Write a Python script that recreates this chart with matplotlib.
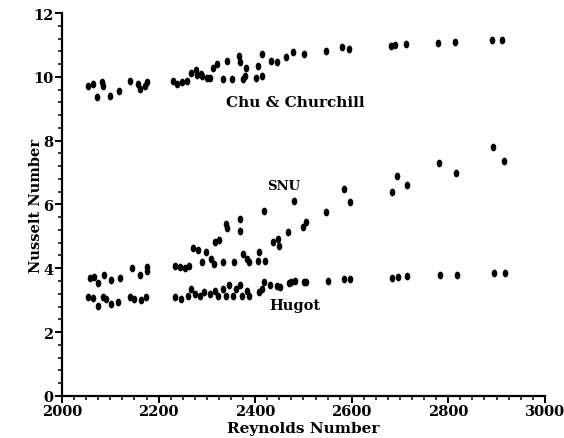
import numpy as np
import matplotlib
matplotlib.use("Agg")
import matplotlib.pyplot as plt
from matplotlib.path import Path
from matplotlib.ticker import MultipleLocator

# Chu & Churchill correlation points
chu_re = [2054, 2064, 2083, 2085, 2072, 2099, 2118, 2140, 2157, 2161, 2171, 2176,
          2229, 2238, 2248, 2258, 2268, 2277, 2279, 2287, 2289, 2300, 2306, 2312,
          2322, 2333, 2341, 2353, 2366, 2368, 2374, 2380, 2382, 2402, 2405, 2415,
          2415, 2433, 2446, 2464, 2478, 2502, 2547, 2580, 2594, 2681, 2690, 2712,
          2779, 2814, 2891, 2912]
chu_nu = [9.72, 9.78, 9.84, 9.72, 9.37, 9.40, 9.56, 9.87, 9.78, 9.62, 9.72, 9.84,
          9.87, 9.78, 9.84, 9.87, 10.12, 10.23, 10.06, 10.09, 10.03, 9.97, 9.96, 10.27,
          10.41, 9.92, 10.51, 9.92, 10.65, 10.46, 9.94, 10.02, 10.27, 9.96, 10.33, 10.02,
          10.72, 10.51, 10.46, 10.62, 10.78, 10.72, 10.82, 10.93, 10.88, 10.96, 11.00, 11.03,
          11.07, 11.08, 11.14, 11.17]

# SNU measurements
snu_re = [2058, 2067, 2074, 2087, 2101, 2120, 2144, 2161, 2175, 2177, 2233, 2244,
          2254, 2264, 2271, 2282, 2289, 2299, 2309, 2314, 2316, 2326, 2333, 2340,
          2342, 2357, 2368, 2369, 2375, 2383, 2388, 2406, 2409, 2419, 2421, 2437,
          2447, 2450, 2468, 2481, 2499, 2506, 2547, 2583, 2596, 2683, 2693, 2715,
          2781, 2817, 2893, 2915]
snu_nu = [3.70, 3.74, 3.53, 3.80, 3.64, 3.70, 4.01, 3.80, 4.05, 3.91, 4.08, 4.03,
          4.01, 4.08, 4.63, 4.56, 4.19, 4.50, 4.29, 4.14, 4.82, 4.90, 4.19, 5.39,
          5.26, 4.19, 5.18, 5.55, 4.45, 4.29, 4.19, 4.24, 4.50, 5.81, 4.24, 4.82,
          4.92, 4.71, 5.13, 6.12, 5.29, 5.46, 5.76, 6.49, 6.07, 6.38, 6.88, 6.61,
          7.29, 6.98, 7.80, 7.36]

# Hugot correlation points
hug_re = [2054, 2065, 2075, 2085, 2092, 2101, 2115, 2140, 2149, 2163, 2173, 2233,
          2247, 2261, 2268, 2275, 2285, 2295, 2306, 2316, 2323, 2333, 2340, 2346,
          2354, 2361, 2368, 2373, 2383, 2387, 2409, 2415, 2419, 2430, 2445, 2452,
          2471, 2475, 2483, 2502, 2506, 2550, 2585, 2596, 2684, 2695, 2715, 2783,
          2819, 2895, 2917]
hug_nu = [3.09, 3.07, 2.83, 3.11, 3.04, 2.88, 2.93, 3.11, 3.04, 2.99, 3.11, 3.09,
          3.04, 3.14, 3.35, 3.20, 3.14, 3.24, 3.20, 3.30, 3.14, 3.35, 3.14, 3.48,
          3.14, 3.35, 3.48, 3.14, 3.30, 3.14, 3.24, 3.35, 3.56, 3.48, 3.43, 3.40,
          3.54, 3.56, 3.61, 3.58, 3.58, 3.61, 3.67, 3.65, 3.70, 3.72, 3.75, 3.79,
          3.80, 3.84, 3.84]

# (text, Re, Nu, size) for the curve names
labels = [("Chu & Churchill", 2339, 9.22, 11),
          ("SNU", 2424, 6.58, 9.5),
          ("Hugot", 2430, 2.85, 10.5)]

# small upright ellipse used as the point marker
t = np.linspace(0, 2 * np.pi, 40)
blob = Path(np.column_stack([0.72 * np.cos(t), np.sin(t)]), closed=True)

font = "DejaVu Serif"
fig = plt.figure(figsize=(5.64, 4.39), dpi=100)
ax = fig.add_axes([0.110, 0.096, 0.856, 0.872])

for re, nu in [(chu_re, chu_nu), (snu_re, snu_nu), (hug_re, hug_nu)]:
    ax.plot(re, nu, linestyle="none", marker=blob, markersize=5.6,
            color="black", markeredgewidth=0)

for text, x, y, size in labels:
    ax.text(x, y, text, fontsize=size, fontweight="bold", family=font,
            ha="left", va="center")

ax.set_xlim(2000, 3000)
ax.set_ylim(0, 12)
ax.xaxis.set_major_locator(MultipleLocator(200))
ax.xaxis.set_minor_locator(MultipleLocator(25))
ax.yaxis.set_major_locator(MultipleLocator(2))
ax.yaxis.set_minor_locator(MultipleLocator(0.4))

for side in ["top", "right"]:
    ax.spines[side].set_visible(False)
for side in ["left", "bottom"]:
    ax.spines[side].set_linewidth(1.6)

ax.tick_params(which="major", direction="out", length=5, width=1.4, pad=1)
ax.tick_params(which="minor", direction="out", length=3, width=1.1)
for lab in ax.get_xticklabels() + ax.get_yticklabels():
    lab.set_fontfamily(font)
    lab.set_fontweight("bold")
    lab.set_fontsize(10.5)

ax.set_xlabel("Reynolds Number", fontsize=11, fontweight="bold",
              family=font, labelpad=2)
ax.set_ylabel("Nusselt Number", fontsize=10.5, fontweight="bold",
              family=font)
ax.yaxis.set_label_coords(-0.039, 0.5)

fig.savefig("out.png", dpi=100)
